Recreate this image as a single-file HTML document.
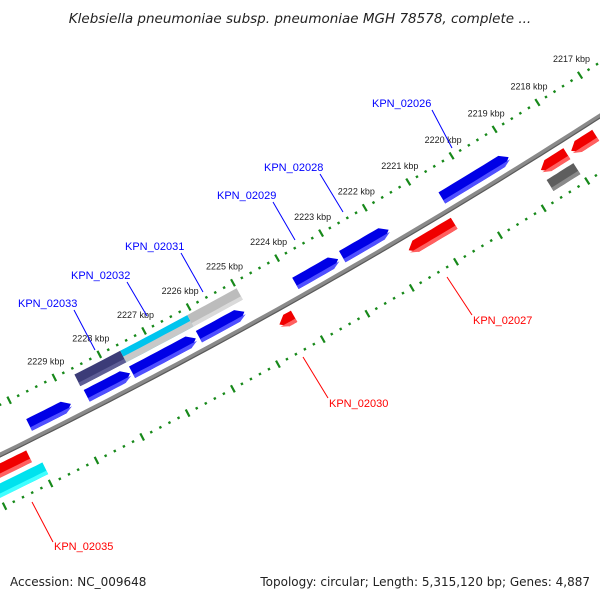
<!DOCTYPE html>
<html><head><meta charset="utf-8"><style>
html,body{margin:0;padding:0;background:#fff;}
svg{display:block;font-family:"Liberation Sans",sans-serif;}
</style></head><body>
<svg id="map" width="600" height="600" viewBox="0 0 600 600" xmlns="http://www.w3.org/2000/svg">
<rect width="600" height="600" fill="#fff"/>
<text x="300" y="23" text-anchor="middle" font-size="13.5" font-style="italic" fill="#222" style="font-family:'DejaVu Sans',sans-serif">Klebsiella pneumoniae subsp. pneumoniae MGH 78578, complete ...</text>
<g id="ticks"></g>
<g id="backbone"></g>
<g id="features"></g>
<g id="labels">
<g><line x1="432" y1="110" x2="452" y2="148" stroke="#0000ff" stroke-width="1"/><text x="372" y="107" font-size="11" fill="#0000ff">KPN_02026</text></g>
<g><line x1="320" y1="174" x2="343" y2="212" stroke="#0000ff" stroke-width="1"/><text x="264" y="171" font-size="11" fill="#0000ff">KPN_02028</text></g>
<g><line x1="273" y1="202" x2="295" y2="240" stroke="#0000ff" stroke-width="1"/><text x="217" y="199" font-size="11" fill="#0000ff">KPN_02029</text></g>
<g><line x1="181" y1="253" x2="203" y2="292" stroke="#0000ff" stroke-width="1"/><text x="125" y="250" font-size="11" fill="#0000ff">KPN_02031</text></g>
<g><line x1="127" y1="282" x2="147" y2="316" stroke="#0000ff" stroke-width="1"/><text x="71" y="279" font-size="11" fill="#0000ff">KPN_02032</text></g>
<g><line x1="74" y1="310" x2="95" y2="350" stroke="#0000ff" stroke-width="1"/><text x="18" y="307" font-size="11" fill="#0000ff">KPN_02033</text></g>
<g><line x1="447" y1="277" x2="472" y2="315" stroke="#ff0000" stroke-width="1"/><text x="473" y="324" font-size="11" fill="#ff0000">KPN_02027</text></g>
<g><line x1="303" y1="357" x2="328" y2="398" stroke="#ff0000" stroke-width="1"/><text x="329" y="407" font-size="11" fill="#ff0000">KPN_02030</text></g>
<g><line x1="32" y1="502" x2="53" y2="542" stroke="#ff0000" stroke-width="1"/><text x="54" y="550" font-size="11" fill="#ff0000">KPN_02035</text></g>
</g>
<text x="10" y="586" font-size="12" fill="#222" style="font-family:'DejaVu Sans',sans-serif">Accession: NC_009648</text>
<text x="590" y="586" font-size="12" fill="#222" text-anchor="end" style="font-family:'DejaVu Sans',sans-serif">Topology: circular; Length: 5,315,120 bp; Genes: 4,887</text>
</svg>
<script>
// ---- data ----
const tickLabelsKbp = [2217,2218,2219,2220,2221,2222,2223,2224,2225,2226,2227,2228,2229];
const featStart = [2228945,2227635,2226170,2225080,2222965,2221815,2219055, 2227600,2226100,2224990, 2224270,2220645,2218050,2217380,2230140, 2218040,2229960];
const featEnd   = [2229865,2228595,2227590,2226100,2223930,2222870,2220595, 2228620,2227600,2226100, 2224600,2221680,2218650,2217950,2231100, 2218660,2231100];
const featTrack = [1,1,1,1,1,1,1, 2,2,2, -1,-1,-1,-1,-1, -2,-2];
const featKind  = ['blue','blue','blue','blue','blue','blue','blue','slate','cyan','lgray','red','red','red','red','red','dgray','cyan2'];
const featArrow = ['R','R','R','R','R','R','R','N','N','N','L','L','L','L','L','N','N'];

// ---- geometry ----
const CX=-2626, CY=-4892, RB=5957;
const ANG0=60.1*Math.PI/180, BP0=2223000, K=0.49e-3*Math.PI/180;
const trackR={1:RB-14,2:RB-32,'-1':RB+14,'-2':RB+32};
const RT=RB-45, RI=RB+48, TH=13;
function P(bp,r){const a=ANG0+(bp-BP0)*K;return [CX+r*Math.cos(a),CY+r*Math.sin(a)];}
const NS='http://www.w3.org/2000/svg';
function mk(tag,attrs,parent){const e=document.createElementNS(NS,tag);for(const k in attrs)e.setAttribute(k,attrs[k]);parent.appendChild(e);return e;}
function pts(a){return a.map(p=>p[0].toFixed(1)+','+p[1].toFixed(1)).join(' ');}

// backbone
const bb=document.getElementById('backbone');
let bpts=[];for(let b=2215000;b<=2232000;b+=250)bpts.push(P(b,RB));
const bl1=mk('polyline',{points:pts(bpts),fill:'none',stroke:'#8a8a8a','stroke-width':4.5},bb);


let bpts2=[];for(let b=2215000;b<=2232000;b+=250)bpts2.push(P(b,RB+1.8));
const bl2=mk('polyline',{points:pts(bpts2),fill:'none',stroke:'#5a5a5a','stroke-width':1.2},bb);



// ticks
const tg=document.getElementById('ticks');
[RT,RI].forEach((R,ri)=>{
  for(let b=2215000;b<=2232000;b+=200){
    const major=(b%1000===0);
    const h=major?4:1.2;
    const p1=P(b,R-h),p2=P(b,R+h);
    const t=mk('line',{x1:p1[0],y1:p1[1],x2:p2[0],y2:p2[1],stroke:'#17891a','stroke-width':major?2.2:2.4},tg);
    
    
  }
});
tickLabelsKbp.forEach(k=>{
  const p=P(k*1000,RT);
  const t=mk('text',{x:(p[0]-27).toFixed(1),y:(p[1]-13).toFixed(1),'font-size':9,fill:'#222'},tg);
  t.textContent=k+' kbp';
  
  
});

// features
const colors={blue:['#0000e6','#5050ff'],red:['#f00000','#ff6060'],slate:['#3c3c78','#5e5e96'],cyan:['#00c4ee','#c8c8c8'],lgray:['#bcbcbc','#dadada'],dgray:['#5e5e5e','#8a8a8a'],cyan2:['#00e2ee','#40ffff']};
const fg=document.getElementById('features');
const HEAD=160;
featStart.forEach((s,i)=>{
  const e=featEnd[i], r=trackR[featTrack[i]], r0=r-TH/2, r1=r+TH/2, dir=featArrow[i];
  const g=mk('g',{},fg);
  
  
  function shape(ra,rb,rmid){
    let poly=[];
    const lo=s,hi=e;
    const loB=(dir==='R')?Math.min(lo+HEAD,hi):lo;
    const hiB=(dir==='L')?Math.max(hi-HEAD,lo):hi;
    const n=8;
    for(let j=0;j<=n;j++)poly.push(P(loB+(hiB-loB)*j/n,ra));
    if(dir==='L'){poly.push(P(hi,rmid));}
    for(let j=n;j>=0;j--)poly.push(P(loB+(hiB-loB)*j/n,rb));
    if(dir==='R'){poly.push(P(lo,rmid));}
    return poly;
  }
  const c=colors[featKind[i]];
  const p1=mk('polygon',{points:pts(shape(r0,r1,r)),fill:c[0]},g);
  
  
  const frac=featKind[i]==='cyan'?0.5:0.3;
  const ra=r1-TH*frac;
  const p2=mk('polygon',{points:pts(shape(ra,r1,Math.max(r,ra))),fill:c[1]},g);
  
  
});
</script>
</body></html>
